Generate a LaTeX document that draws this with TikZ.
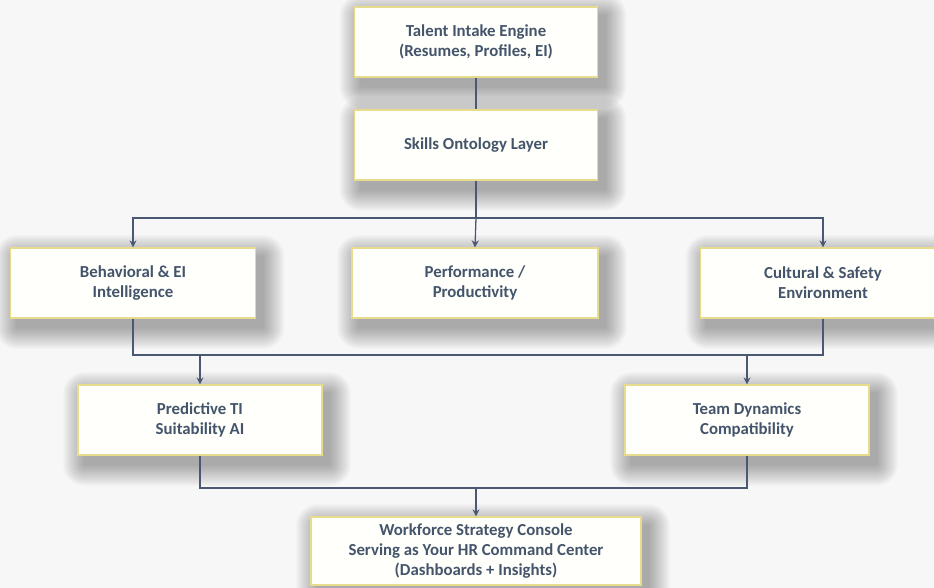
\documentclass[tikz,border=0pt]{standalone}
\usepackage{fontspec}
\setmainfont{Carlito}
\usetikzlibrary{arrows.meta}
\definecolor{txt}{HTML}{44546A}
\definecolor{ln}{HTML}{4A5874}
\definecolor{bord}{HTML}{E6DC8C}
\definecolor{boxfill}{HTML}{FFFFFC}
\definecolor{bg}{HTML}{F7F7F7}
\pgfdeclarelayer{shadowlayer}
\pgfsetlayers{shadowlayer,main}
\tikzset{
  box/.style={draw=bord, line width=1.2pt, fill=boxfill, text=txt,
    font=\fontsize{16.8}{20}\selectfont\bfseries, align=center,
    minimum width=243pt, minimum height=70pt, inner sep=0pt},
  conn/.style={draw=ln, line width=1.3pt},
  arr/.style={conn, -{Stealth[length=7pt,width=7pt]}},
  shadowpiece/.style={fill=black, opacity=0.032}
}
\newcommand{\softshadow}[1]{%
  \begin{pgfonlayer}{shadowlayer}
  \foreach \r in {1,3,...,21}{
    \fill[shadowpiece, rounded corners=\r pt]
      ([shift={(7-\r,9-\r)}]#1.north west) rectangle ([shift={(7+\r,9+\r)}]#1.south east);
  }
  \end{pgfonlayer}}
\begin{document}
\begin{tikzpicture}[x=1pt,y=-1pt]
\useasboundingbox (0,0) rectangle (934,588);
\clip (0,0) rectangle (934,588);
\begin{pgfonlayer}{shadowlayer}
\fill[bg] (0,0) rectangle (934,588);
\end{pgfonlayer}
\node[box] (talent) at (476,42) {Talent Intake Engine\\(Resumes, Profiles, EI)};
\node[box] (skills) at (476,145) {Skills Ontology Layer};
\node[box, minimum width=245pt] (behav) at (133,283) {Behavioral \& EI\\Intelligence};
\node[box, minimum width=246pt] (perf) at (475,283) {Performance /\\Productivity};
\node[box, minimum width=245pt] (cult) at (823,283) {Cultural \& Safety\\Environment};
\node[box, minimum width=244pt] (pred) at (200,420) {Predictive TI\\Suitability AI};
\node[box, minimum width=244pt] (team) at (747,420) {Team Dynamics\\Compatibility};
\node[box, minimum width=330pt, minimum height=68pt] (work) at (476,551) {Workforce Strategy Console\\Serving as Your HR Command Center\\(Dashboards + Insights)};
\softshadow{talent}
\softshadow{skills}
\softshadow{behav}
\softshadow{perf}
\softshadow{cult}
\softshadow{pred}
\softshadow{team}
\softshadow{work}
\coordinate (j1) at (476,218);
\coordinate (j2) at (476,355);
\coordinate (j3) at (476,488);
\draw[conn] (talent.south) -- (skills.north);
\draw[conn] (skills.south) -- (j1);
\draw[arr] (j1) -- (perf.north);
\draw[arr] (j1) -| (behav.north);
\draw[arr] (j1) -| (cult.north);
\draw[conn] (behav.south) |- (j2);
\draw[conn] (cult.south) |- (j2);
\draw[arr] (pred.north |- j2) -- (pred.north);
\draw[arr] (team.north |- j2) -- (team.north);
\draw[conn] (pred.south) |- (j3);
\draw[conn] (team.south) |- (j3);
\draw[arr] (j3) -- (work.north);
\end{tikzpicture}
\end{document}
